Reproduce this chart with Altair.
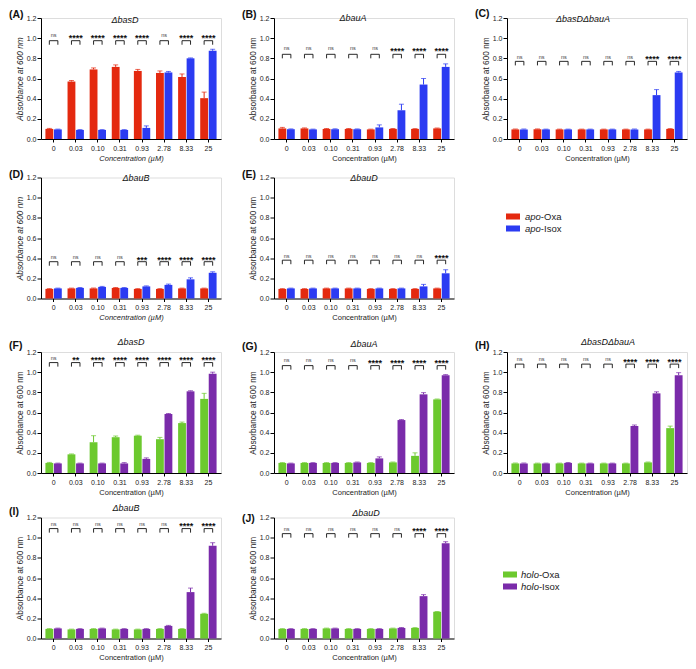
import altair as alt
import pandas as pd

# ---------------- data ----------------
CONC = ["0", "0.03", "0.10", "0.31", "0.93", "2.78", "8.33", "25"]
GROUPS = ["Oxa", "Isox"]
PANEL_IDS = ["A", "B", "C", "D", "E", "F", "G", "H", "I", "J"]
STRAINS = ["ΔbasD", "ΔbauA", "ΔbasDΔbauA", "ΔbauB", "ΔbauD",
           "ΔbasD", "ΔbauA", "ΔbasDΔbauA", "ΔbauB", "ΔbauD"]

APO_LABELS = ["apo-Oxa", "apo-Isox"]
HOLO_LABELS = ["holo-Oxa", "holo-Isox"]
APO_COLORS = ["#E4290F", "#2B3BF2"]
HOLO_COLORS = ["#6CC92E", "#7A2BAA"]

A_OXA = [0.100, 0.570, 0.690, 0.715, 0.675, 0.655, 0.615, 0.405]
A_OXA_SD = [0.005, 0.010, 0.015, 0.020, 0.015, 0.020, 0.030, 0.060]
A_ISOX = [0.095, 0.090, 0.090, 0.090, 0.110, 0.660, 0.800, 0.875]
A_ISOX_SD = [0.003, 0.003, 0.003, 0.003, 0.020, 0.010, 0.004, 0.015]
A_SIG = ["ns", "****", "****", "****", "****", "ns", "****", "****"]

B_OXA = [0.105, 0.105, 0.100, 0.100, 0.095, 0.100, 0.100, 0.105]
B_OXA_SD = [0.010, 0.005, 0.004, 0.004, 0.003, 0.004, 0.003, 0.004]
B_ISOX = [0.097, 0.095, 0.097, 0.097, 0.115, 0.285, 0.540, 0.715]
B_ISOX_SD = [0.003, 0.003, 0.004, 0.003, 0.025, 0.060, 0.060, 0.030]
B_SIG = ["ns", "ns", "ns", "ns", "ns", "****", "****", "****"]

C_OXA = [0.095, 0.097, 0.095, 0.095, 0.095, 0.095, 0.095, 0.100]
C_OXA_SD = [0.003, 0.003, 0.003, 0.003, 0.003, 0.003, 0.003, 0.003]
C_ISOX = [0.095, 0.095, 0.095, 0.095, 0.095, 0.095, 0.435, 0.660]
C_ISOX_SD = [0.003, 0.003, 0.003, 0.003, 0.003, 0.003, 0.055, 0.010]
C_SIG = ["ns", "ns", "ns", "ns", "ns", "ns", "****", "****"]

D_OXA = [0.095, 0.100, 0.100, 0.105, 0.095, 0.095, 0.100, 0.100]
D_OXA_SD = [0.003, 0.003, 0.004, 0.004, 0.003, 0.003, 0.003, 0.003]
D_ISOX = [0.100, 0.105, 0.115, 0.105, 0.120, 0.135, 0.190, 0.255]
D_ISOX_SD = [0.003, 0.004, 0.005, 0.004, 0.005, 0.008, 0.015, 0.010]
D_SIG = ["ns", "ns", "ns", "ns", "***", "****", "****", "****"]

E_OXA = [0.095, 0.095, 0.100, 0.100, 0.095, 0.095, 0.095, 0.100]
E_OXA_SD = [0.003, 0.003, 0.003, 0.003, 0.003, 0.003, 0.003, 0.003]
E_ISOX = [0.100, 0.100, 0.100, 0.100, 0.100, 0.100, 0.120, 0.250]
E_ISOX_SD = [0.003, 0.003, 0.003, 0.003, 0.003, 0.003, 0.020, 0.035]
E_SIG = ["ns", "ns", "ns", "ns", "ns", "ns", "ns", "****"]

F_OXA = [0.100, 0.185, 0.305, 0.355, 0.370, 0.335, 0.495, 0.735]
F_OXA_SD = [0.005, 0.004, 0.065, 0.012, 0.005, 0.018, 0.010, 0.055]
F_ISOX = [0.095, 0.095, 0.095, 0.095, 0.140, 0.585, 0.810, 0.985]
F_ISOX_SD = [0.003, 0.003, 0.003, 0.008, 0.010, 0.005, 0.006, 0.015]
F_SIG = ["ns", "**", "****", "****", "****", "****", "****", "****"]

G_OXA = [0.100, 0.100, 0.100, 0.100, 0.100, 0.105, 0.170, 0.730]
G_OXA_SD = [0.003, 0.003, 0.003, 0.003, 0.003, 0.004, 0.030, 0.004]
G_ISOX = [0.095, 0.100, 0.100, 0.105, 0.145, 0.525, 0.780, 0.970]
G_ISOX_SD = [0.003, 0.003, 0.003, 0.004, 0.015, 0.005, 0.017, 0.006]
G_SIG = ["ns", "ns", "ns", "ns", "****", "****", "****", "****"]

H_OXA = [0.095, 0.095, 0.095, 0.095, 0.095, 0.095, 0.105, 0.445]
H_OXA_SD = [0.003, 0.003, 0.003, 0.003, 0.003, 0.003, 0.004, 0.020]
H_ISOX = [0.095, 0.095, 0.100, 0.095, 0.095, 0.465, 0.790, 0.970]
H_ISOX_SD = [0.003, 0.003, 0.004, 0.003, 0.003, 0.010, 0.015, 0.025]
H_SIG = ["ns", "ns", "ns", "ns", "ns", "****", "****", "****"]

I_OXA = [0.095, 0.090, 0.095, 0.090, 0.090, 0.095, 0.095, 0.245]
I_OXA_SD = [0.003, 0.003, 0.003, 0.003, 0.003, 0.003, 0.003, 0.005]
I_ISOX = [0.100, 0.095, 0.100, 0.095, 0.095, 0.125, 0.460, 0.920]
I_ISOX_SD = [0.003, 0.003, 0.003, 0.003, 0.003, 0.005, 0.040, 0.030]
I_SIG = ["ns", "ns", "ns", "ns", "ns", "ns", "****", "****"]

J_OXA = [0.095, 0.095, 0.100, 0.095, 0.095, 0.100, 0.105, 0.265]
J_OXA_SD = [0.003, 0.003, 0.003, 0.003, 0.003, 0.003, 0.003, 0.003]
J_ISOX = [0.095, 0.095, 0.100, 0.095, 0.095, 0.105, 0.420, 0.945]
J_ISOX_SD = [0.003, 0.003, 0.003, 0.003, 0.003, 0.004, 0.015, 0.015]
J_SIG = ["ns", "ns", "ns", "ns", "ns", "ns", "****", "****"]

OXA = [A_OXA, B_OXA, C_OXA, D_OXA, E_OXA, F_OXA, G_OXA, H_OXA, I_OXA, J_OXA]
OXA_SD = [A_OXA_SD, B_OXA_SD, C_OXA_SD, D_OXA_SD, E_OXA_SD,
          F_OXA_SD, G_OXA_SD, H_OXA_SD, I_OXA_SD, J_OXA_SD]
ISOX = [A_ISOX, B_ISOX, C_ISOX, D_ISOX, E_ISOX, F_ISOX, G_ISOX, H_ISOX, I_ISOX, J_ISOX]
ISOX_SD = [A_ISOX_SD, B_ISOX_SD, C_ISOX_SD, D_ISOX_SD, E_ISOX_SD,
           F_ISOX_SD, G_ISOX_SD, H_ISOX_SD, I_ISOX_SD, J_ISOX_SD]
SIG = [A_SIG, B_SIG, C_SIG, D_SIG, E_SIG, F_SIG, G_SIG, H_SIG, I_SIG, J_SIG]

# significance bracket levels (data units): bracket top, text level
BRACKET_TOP = [0.975, 0.84, 0.77, 0.365, 0.38, 1.095, 1.065, 1.08, 1.09, 1.04]
SIG_TEXT = [1.03, 0.90, 0.815, 0.41, 0.425, 1.145, 1.12, 1.13, 1.14, 1.09]
LEG = 0.04

# ---------------- layout / style ----------------
W, H = 180, 121
SP = 53
FONT = "Liberation Sans"
TITLE_DX = [-6, -11, -14, 5, 0, 0, 0, 11, -5, 2]
TITLE_DY = [2, 0, 1, 0, 0, -10, -8, -10, -10, -5]
LETTER_DY = [-3, -3, -4, -3, -3, -6, -5, -6, -6, 1]
ITALIC_TITLES = ["A", "D"]
# legend placement (pixels, relative to the panel that carries it)
LEGEND_HOST = {4: (APO_LABELS, APO_COLORS, "apo", W + SP + 6, W + SP + 18, 39),
               9: (HOLO_LABELS, HOLO_COLORS, "holo", W + SP + 3, W + SP + 14, 57)}


def legend_layers(labels, colors, prefix, sq_x, tx_x, y0):
    suffixes = [lab[len(prefix):] for lab in labels]
    ldf = pd.DataFrame({"lab": labels, "pre": [prefix] * 2, "suf": suffixes, "color": colors})
    yl = alt.Y("lab:N", sort=labels, axis=None,
               scale=alt.Scale(domain=labels, range=[y0, y0 + 12], padding=0))
    widths = {"a": 0.556, "p": 0.556, "o": 0.556, "h": 0.556, "l": 0.222}
    pw = sum(widths[ch] for ch in prefix) * 9.5
    sw = alt.Chart(ldf).mark_point(shape="M-1,-0.43H1V0.43H-1Z", size=196, filled=True,
                                   opacity=1, strokeWidth=0).encode(
        x=alt.value(sq_x), y=yl, color=alt.Color("color:N", scale=None))
    pre = alt.Chart(ldf).mark_text(align="left", baseline="middle", fontSize=9.5,
                                   fontStyle="italic", color="#222", font=FONT).encode(
        x=alt.value(tx_x), y=yl, text="pre:N")
    suf = alt.Chart(ldf).mark_text(align="left", baseline="middle", fontSize=9.5,
                                   color="#222", font=FONT).encode(
        x=alt.value(tx_x + pw), y=yl, text="suf:N")
    return alt.layer(sw, pre, suf)


def panel(i):
    colors = APO_COLORS if i < 5 else HOLO_COLORS
    rows = []
    for k, c in enumerate(CONC):
        for g, (m, s) in enumerate([(OXA[i][k], OXA_SD[i][k]), (ISOX[i][k], ISOX_SD[i][k])]):
            rows.append({"conc": c, "grp": GROUPS[g], "v": m, "hi": m + s, "color": colors[g]})
    df = pd.DataFrame(rows)

    br = []
    for k, c in enumerate(CONC):
        top = BRACKET_TOP[i]
        for o, (g, v) in enumerate([("Oxa", top - LEG), ("Oxa", top), ("Isox", top), ("Isox", top - LEG)]):
            br.append({"conc": c, "grp": g, "v": v, "ord": o})
    bdf = pd.DataFrame(br)
    sdf = pd.DataFrame({"conc": CONC, "txt": SIG[i], "v": [SIG_TEXT[i]] * 8})

    fs = "italic" if PANEL_IDS[i] in ITALIC_TITLES else "normal"
    xaxis = alt.Axis(title="Concentration (µM)", labelAngle=0, labelFontSize=7, titleFontSize=7.5,
                     titleFontWeight="normal", titleFontStyle=fs, tickSize=3, labelPadding=2,
                     titlePadding=3, domainColor="black", tickColor="black", labelColor="#222",
                     titleColor="#222", grid=False)
    yaxis = alt.Axis(title="Absorbance at 600 nm", values=[0, 0.2, 0.4, 0.6, 0.8, 1.0, 1.2],
                     format=".1f", labelFontSize=7, titleFontSize=8.3, titleFontWeight="normal",
                     titleFontStyle=fs, tickSize=4, labelPadding=1, titlePadding=2,
                     minExtent=15, maxExtent=15, domainColor="black", tickColor="black",
                     labelColor="#222", titleColor="#222", grid=False)
    x_enc = alt.X("conc:N", sort=CONC, axis=xaxis,
                  scale=alt.Scale(domain=CONC, paddingInner=0.26, paddingOuter=0.2))
    xo = alt.XOffset("grp:N", sort=GROUPS, scale=alt.Scale(domain=GROUPS, paddingInner=0.08))
    ysc = alt.Scale(domain=[0, 1.2], nice=False, zero=True)

    def Y(f):
        return alt.Y(f, scale=ysc, axis=yaxis, title="Absorbance at 600 nm")

    col = alt.Color("color:N", scale=None)
    bars = alt.Chart(df).mark_bar().encode(x=x_enc, xOffset=xo, y=Y("v:Q"), color=col)
    err = alt.Chart(df).mark_rule(strokeWidth=1).encode(
        x=x_enc, xOffset=xo, y=Y("v:Q"), y2="hi:Q", color=col)
    cap = alt.Chart(df).mark_tick(thickness=1, size=5).encode(
        x=x_enc, xOffset=xo, y=Y("hi:Q"), color=col)
    brk = alt.Chart(bdf).mark_line(color="#111", strokeWidth=0.9).encode(
        x=x_enc, xOffset=xo, y=Y("v:Q"), detail="conc:N", order="ord:Q")
    ns = alt.Chart(sdf).transform_filter("datum.txt == 'ns'").mark_text(
        fontSize=5.5, color="#444", baseline="middle", font=FONT).encode(
        x=x_enc, y=Y("v:Q"), text="txt:N")
    st = alt.Chart(sdf).transform_filter("datum.txt != 'ns'").mark_text(
        fontSize=9, fontWeight="bold", color="#111", baseline="middle", dy=2.5, font=FONT).encode(
        x=x_enc, y=Y("v:Q"), text="txt:N")
    tdf = pd.DataFrame({"t": [STRAINS[i]], "l": ["(" + PANEL_IDS[i] + ")"]})
    title = alt.Chart(tdf).mark_text(fontSize=9, fontStyle="italic", color="#111",
                                     baseline="middle", font=FONT).encode(
        x=alt.value(W / 2 + TITLE_DX[i]), y=alt.value(TITLE_DY[i]), text="t:N")
    letter = alt.Chart(tdf).mark_text(fontSize=10.5, fontWeight="bold", color="#111",
                                      align="left", baseline="middle", font=FONT).encode(
        x=alt.value(-32), y=alt.value(LETTER_DY[i]), text="l:N")
    layers = [bars, err, cap, brk, ns, st, title, letter]
    if i == 5:
        spacer = alt.Chart(tdf).mark_rule(opacity=0, strokeOpacity=0).encode(
            x=alt.value(0), y=alt.value(-23), y2=alt.value(-20))
        layers.append(spacer)
    main = alt.layer(*layers)
    if i in LEGEND_HOST:
        return alt.layer(main, legend_layers(*LEGEND_HOST[i])).resolve_scale(
            y="independent").properties(width=W, height=H)
    return main.properties(width=W, height=H)


row1 = alt.hconcat(panel(0), panel(1), panel(2), spacing=SP, bounds="flush")
row2 = alt.hconcat(panel(3), panel(4), spacing=SP, bounds="flush")
row3 = alt.hconcat(panel(5), panel(6), panel(7), spacing=SP, bounds="flush")
row4 = alt.hconcat(panel(8), panel(9), spacing=SP, bounds="flush")

chart = alt.vconcat(row1, row2, row3, row4, spacing=6.5).properties(padding=0).configure_view(
    stroke="transparent", strokeWidth=0).configure(font=FONT)

chart.save("out.html", embed_options={"renderer": "svg", "actions": False})
